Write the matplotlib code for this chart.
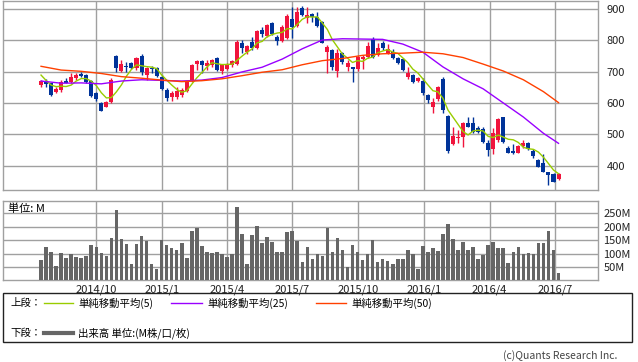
import pandas as pd
import numpy as np
import matplotlib
matplotlib.use("Agg")
import matplotlib.pyplot as plt
import matplotlib.dates as mdates
from matplotlib.lines import Line2D
from matplotlib.patches import Rectangle

plt.rcParams['font.family'] = ['Noto Sans CJK JP', 'DejaVu Sans']

# weekly candles
opens = [657, 668, 663, 635, 641, 671, 667, 680, 692, 690, 670, 632, 601, 588, 603, 750,
         702, 718, 729, 711, 750, 688, 711, 712, 684, 641, 620, 618, 625, 639, 670, 724,
         734, 719, 721, 744, 702, 707, 720, 724, 792, 763, 795, 774, 833, 815, 856, 812,
         798, 808, 868, 846, 904, 870, 883, 875, 860, 764, 769, 703, 761, 716, 716, 708,
         739, 748, 803, 753, 792, 758, 764, 742, 739, 684, 689, 670, 671, 625, 588, 612,
         675, 558, 469, 487, 490, 537, 537, 519, 516, 473, 452, 482, 554, 457, 447, 441,
         461, 473, 447, 418, 409, 379, 372, 357]
highs = [673, 675, 665, 650, 673, 679, 695, 697, 700, 692, 673, 634, 604, 605, 680, 752,
         737, 732, 732, 748, 756, 714, 718, 716, 688, 647, 639, 650, 648, 669, 724, 737,
         737, 737, 739, 746, 724, 726, 737, 801, 801, 785, 812, 833, 844, 851, 858, 817,
         849, 883, 905, 907, 911, 907, 886, 889, 863, 785, 771, 771, 764, 737, 716, 750,
         753, 796, 812, 792, 799, 788, 771, 748, 742, 716, 692, 682, 679, 629, 615, 654,
         682, 562, 524, 514, 540, 556, 554, 527, 524, 482, 519, 551, 556, 461, 469, 465,
         482, 476, 452, 422, 437, 381, 375, 375]
lows = [652, 650, 622, 633, 636, 663, 665, 673, 682, 663, 620, 606, 573, 586, 601, 700,
        700, 700, 707, 705, 689, 673, 695, 684, 641, 607, 607, 612, 620, 636, 667, 705,
        695, 705, 716, 702, 692, 705, 716, 720, 758, 756, 769, 771, 812, 812, 817, 785,
        794, 805, 808, 841, 878, 854, 860, 844, 790, 695, 705, 684, 724, 703, 668, 703,
        708, 743, 743, 750, 769, 756, 739, 724, 703, 675, 663, 668, 625, 599, 567, 607,
        567, 441, 466, 471, 460, 522, 505, 505, 473, 431, 437, 476, 473, 439, 437, 439,
        455, 450, 423, 395, 378, 338, 346, 354]
closes = [670, 659, 625, 646, 667, 665, 682, 689, 686, 667, 622, 613, 575, 603, 673, 713,
          724, 715, 711, 745, 698, 711, 707, 687, 645, 615, 633, 637, 641, 667, 721, 734,
          721, 729, 737, 705, 721, 723, 733, 796, 774, 783, 776, 830, 819, 849, 819, 799,
          841, 879, 844, 891, 881, 881, 875, 846, 792, 778, 716, 761, 732, 729, 708, 746,
          748, 782, 748, 777, 774, 771, 742, 728, 705, 697, 668, 681, 633, 609, 604, 650,
          578, 445, 495, 490, 535, 524, 508, 508, 476, 450, 505, 548, 476, 441, 441, 463,
          471, 452, 432, 397, 381, 370, 349, 373]
# volume in M
volume = [75, 123, 105, 53, 101, 83, 98, 86, 83, 90, 131, 123, 101, 90, 157, 264,
          153, 135, 60, 135, 164, 146, 60, 42, 149, 131, 120, 112, 138, 83, 183, 194,
          127, 105, 101, 105, 98, 86, 98, 272, 172, 60, 168, 201, 138, 160, 142, 105,
          105, 179, 183, 146, 68, 123, 79, 98, 90, 194, 105, 157, 112, 49, 131, 105,
          75, 98, 149, 68, 79, 72, 60, 79, 79, 112, 98, 42, 127, 105, 120, 109,
          172, 212, 153, 112, 142, 112, 123, 79, 94, 131, 142, 120, 120, 64, 105, 123,
          98, 101, 98, 138, 138, 183, 112, 27]

# moving averages (first weeks of the 5 week line, every 4th week of the others)
ma5_head = [689, 672, 657, 652]
ma_idx = [0, 4, 8, 12, 16, 20, 24, 28, 32, 36, 40, 44, 48, 52, 56, 60, 64, 68, 72, 76,
          80, 84, 88, 92, 96, 100, 103]
ma25 = [670, 663, 664, 661, 670, 674, 672, 670, 673, 681, 699, 714, 740, 773, 801, 805,
        804, 803, 788, 762, 715, 677, 645, 600, 555, 503, 471]
ma50 = [717, 705, 701, 694, 684, 679, 673, 668, 671, 677, 687, 698, 706, 722, 735, 742,
        752, 757, 759, 762, 757, 745, 724, 702, 674, 636, 601]

quarters = ['2014-10-01', '2015-01-01', '2015-04-01', '2015-07-01',
            '2015-10-01', '2016-01-01', '2016-04-01', '2016-07-01']
quarter_labels = ['2014/10', '2015/1', '2015/4', '2015/7', '2015/10', '2016/1', '2016/4', '2016/7']

dates = pd.date_range('2014-07-16', periods=len(closes), freq='7D')
x = mdates.date2num(dates)
df = pd.DataFrame({'o': opens, 'h': highs, 'l': lows, 'c': closes, 'v': volume}, index=dates)
ma5 = df['c'].rolling(5).mean().to_numpy()
ma5[:4] = ma5_head

RED = '#f0143c'
BLUE = '#003399'
GRID = '#a0a0a0'

fig = plt.figure(figsize=(6.38, 3.62), dpi=100)
W, H = 638.0, 362.0
ax = fig.add_axes([3 / W, 1 - 190.3 / H, 595 / W, 189.6 / H])
axv = fig.add_axes([3 / W, 1 - 280.3 / H, 595 / W, 79 / H])

xmin = mdates.date2num(pd.Timestamp('2014-05-24'))
xmax = mdates.date2num(pd.Timestamp('2016-08-30'))
qx = mdates.date2num(pd.to_datetime(quarters))

for a in (ax, axv):
    a.set_xlim(xmin, xmax)
    for s in a.spines.values():
        s.set_color(GRID)
        s.set_linewidth(1.0)
    a.yaxis.tick_right()
    a.tick_params(axis='both', length=0, labelsize=8, colors='#222222')
    for q in qx:
        a.axvline(q, color=GRID, lw=1.0, zorder=0)
    a.set_xticks(qx)

# price panel
ax.set_ylim(321, 926.5)
ax.set_yticks([400, 500, 600, 700, 800, 900])
for v in [400, 500, 600, 700, 800, 900]:
    ax.axhline(v, color=GRID, lw=1.0, zorder=0)
ax.tick_params(axis='y', pad=6)
ax.set_xticklabels([])

up = df['c'] >= df['o']
col = np.where(up, RED, BLUE)
ax.vlines(x, df['l'], df['h'], colors=col, lw=1.0, zorder=3)
body_low = np.minimum(df['o'], df['c'])
body_h = np.maximum(np.abs(df['c'] - df['o']), 2.0)
ax.bar(x, body_h, bottom=body_low, width=5.6, color=col, lw=0, zorder=4)

ma_x = x[ma_idx]
ax.plot(x, ma5, color='#99cc00', lw=1.0, zorder=5)
ax.plot(ma_x, ma25, color='#9900ff', lw=1.0, zorder=5)
ax.plot(ma_x, ma50, color='#ff4000', lw=1.0, zorder=5)

# volume panel
axv.set_ylim(0, 295)
axv.set_yticks([50, 100, 150, 200, 250])
axv.set_yticklabels(['50M', '100M', '150M', '200M', '250M'])
for v in [50, 100, 150, 200, 250]:
    axv.axhline(v, color=GRID, lw=1.0, zorder=0)
axv.tick_params(axis='y', pad=4)
axv.bar(x, df['v'], width=5.0, color='#666666', lw=0, zorder=3)
axv.set_xticklabels(quarter_labels)
axv.tick_params(axis='x', pad=3)
fig.text(8 / W, 1 - 209 / H, '単位: M', fontsize=8, va='center', ha='left')

# legend box
fig.patches.append(Rectangle((3 / W, 1 - 342 / H), 629 / W, 49 / H, transform=fig.transFigure,
                             fill=False, edgecolor='#222222', lw=1.0))
y1 = 1 - 303 / H
y2 = 1 - 333 / H
fs = 7.5
fig.text(10 / W, y1, '上段：', fontsize=fs, va='center')
fig.lines.append(Line2D([44 / W, 73 / W], [y1, y1], transform=fig.transFigure, color='#99cc00', lw=1.0))
fig.text(78 / W, y1, '単純移動平均(5)', fontsize=fs, va='center')
fig.lines.append(Line2D([171 / W, 202 / W], [y1, y1], transform=fig.transFigure, color='#9900ff', lw=1.0))
fig.text(207 / W, y1, '単純移動平均(25)', fontsize=fs, va='center')
fig.lines.append(Line2D([316 / W, 346 / W], [y1, y1], transform=fig.transFigure, color='#ff4000', lw=1.0))
fig.text(351 / W, y1, '単純移動平均(50)', fontsize=fs, va='center')
fig.text(10 / W, y2, '下段：', fontsize=fs, va='center')
fig.lines.append(Line2D([44 / W, 73 / W], [y2, y2], transform=fig.transFigure, color='#666666', lw=3.0))
fig.text(78 / W, y2, '出来高 単位:(M株/口/枚)', fontsize=fs, va='center')

fig.text(617 / W, 1 - 356 / H, '(c)Quants Research Inc.', fontsize=7.5, ha='right', va='center', color='#444444')

fig.savefig('out.png', dpi=100)
